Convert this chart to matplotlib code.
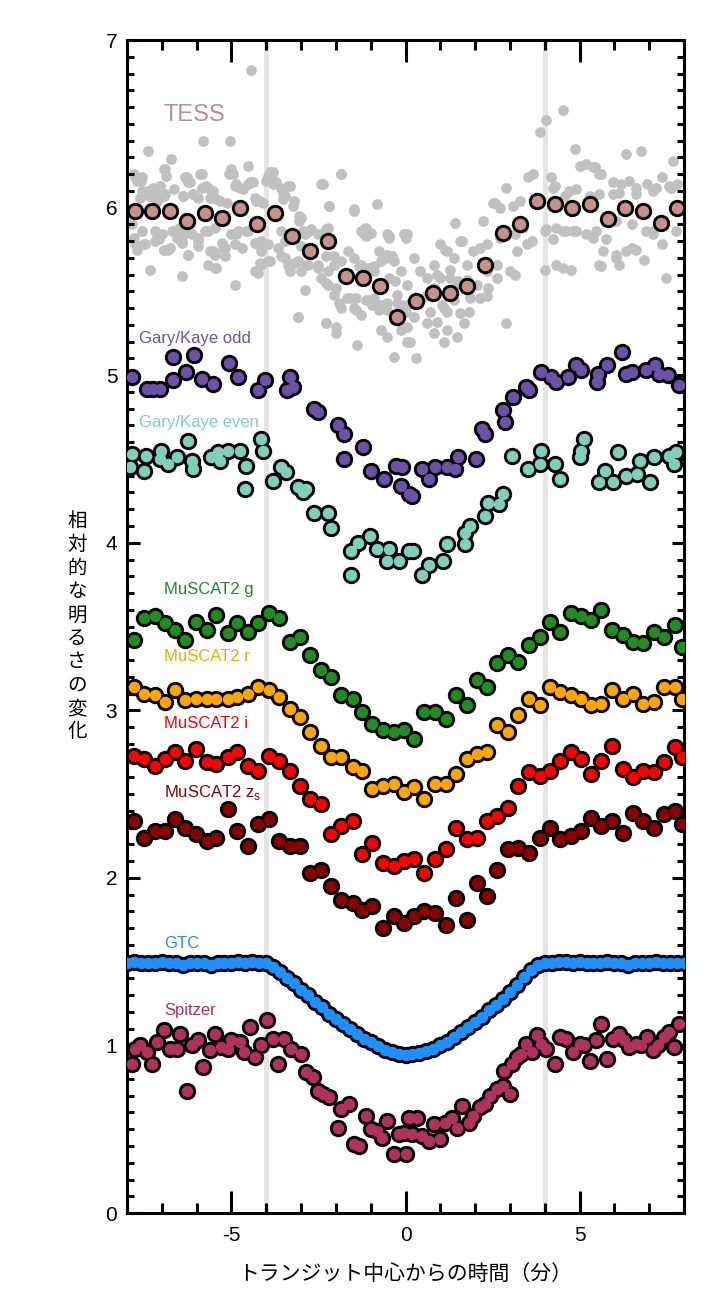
import matplotlib
matplotlib.use("Agg")
import matplotlib.pyplot as plt
from matplotlib.ticker import MultipleLocator

plt.rcParams['font.family'] = ['Liberation Sans', 'DejaVu Sans']
plt.rcParams['axes.unicode_minus'] = False
jp = ['Noto Sans CJK JP', 'DejaVu Sans']

# ---- TESS unbinned (grey) ----
tess_raw_t = [-4.43, -5.81, -5.05, -7.40, -6.73, -4.52, -6.90, -5.85, -5.00, -5.07, -1.85, -7.76, -7.59, -6.33, -6.24,
              -3.81, -3.95, -3.71, -4.38, -4.52, -7.24, -7.05, -7.57, -7.33, -7.09, -6.90, -6.66, -6.38, -6.09, -5.85,
              -5.68, -5.57, -5.43, -4.90, -4.76, -4.33, -4.19, -3.57, -3.38, -3.47, -3.19, -2.38, -2.19, -1.47, -0.81,
              -7.85, -7.57, -7.19, -7.00, -6.71, -6.52, -6.33, -6.14, -5.95, -5.66, -5.47, -5.00, -4.81, -4.52, -4.14,
              -3.95, -3.57, -3.47, -3.00, -2.90, -2.76, -2.52, -2.24, -1.28, -1.19, -0.52, -0.05,
              -7.76, -7.47, -7.09, -6.95, -6.81, -6.43, -6.24, -5.95, -5.62, -5.47, -5.28, -5.19, -5.66, -5.47, -4.90,
              -4.71, -4.24, -4.14, -3.95, -4.33, -4.14, -3.66, -3.47, -3.38, -3.09, -3.00, -2.81, -2.52, -2.43, -2.24,
              -2.05, -1.85, -1.66, -1.47, -1.28, -1.09, -0.90, -0.71, -0.52, -0.33, -0.14, 0.05,
              -7.33, -6.43, -4.90, -2.90, -2.24, -2.05, -1.85, -1.57, -1.47, -1.28, -1.09, -0.90, -0.71, -0.52, -0.33,
              -0.14, -0.71, -0.52, -3.09, -2.28, -2.00, -1.38, 0.05, -0.24, -0.33,
              -7.79, -7.71, -7.57, -6.95, -6.88, -6.29, -6.19, -5.89, -5.73, -5.52, -4.95, -4.86, -4.67, -4.48,
              -3.90, -4.00, -3.81, -3.33, -3.52, -7.43, -7.19, -7.05, -7.62, -7.33, -7.14, -6.95, -6.38, -6.10,
              -5.95, -5.62, -5.33, -5.14, -4.29, -4.10, -3.52, -3.24, -3.05, -2.43, -1.86, -2.19, -1.48, -1.14,
              -1.00, -0.48, -7.81, -7.52, -7.71, -7.14, -7.19, -6.95, -6.76, -6.57, -6.43, -5.95, -5.76, -5.52,
              -5.24, -5.19, -4.86, -4.57, -4.33, -4.10, -6.24, -5.45, -4.19, -3.90, -4.24, -3.57, -3.33, -3.19,
              -3.05, -2.95, -2.71, -3.00, -2.29, -2.29, -2.05, -2.86, -2.52, -2.29, -2.00, -1.90, -1.67, -1.43,
              -1.19, -1.14, -0.76, -0.57, -0.38, -1.33, -1.14, -0.90, -0.48, -0.29, -1.14, -0.95, -0.76, -0.52,
              -1.43, -3.10, -2.29, -2.00, -0.48, 0.00, -0.24, 0.00,
              4.52, 4.05, 3.86, 4.86, 6.33, 6.76, 7.67, 3.67, 3.52, 4.19, 5.00, 5.19, 5.38, 5.62, 5.95, 6.19, 6.43,
              6.62, 6.95, 7.19, 7.38, 7.62, 7.81, 2.89, 4.24, 4.71, 4.90, 5.57, 5.95, 2.52, 2.71, 3.09, 3.29, 2.24,
              1.43, 0.03, 1.00, 1.62, 0.24, 0.43, 0.81, 1.19, 1.38, 1.76, 1.95, 2.14, 2.33, 2.71, 3.14, 3.38, 3.62,
              4.00, 4.24, 4.52, 4.81, 5.19, 5.48, 5.76, 5.67, 5.57, 6.05, 6.33, 6.62, 6.86, 7.10, 7.38, 7.48, 7.76,
              4.00, 4.33, 4.52, 4.76, 3.00, 2.62, 2.33, 2.05, 1.76, 1.48, 1.00, 0.81, 0.62, 0.43, 0.14, -0.05, 0.24,
              0.05, 0.71, 1.10, 1.38, 1.57, 1.86, 2.90, 1.19, 1.48, 0.62, 0.81, 1.10, 0.14, 0.29,
              5.43, 5.57, 4.29, 7.57, 4.57, 5.29, 6.14, 6.62, 7.10, 2.57, 4.05, 4.33, 4.62, 4.90, 5.38, 7.10, 6.90,
              6.05, 6.52, 3.19, 3.48, 3.14, 1.57, 1.14, 1.29, 5.62, 6.14, 6.52, 6.05, 0.90, 1.52, 2.38, 2.62, 1.81,
              1.05, 0.90, 1.67, 2.14, 2.33, -0.10, 0.62, 1.19, 1.29]
tess_raw_f = [6.82, 6.40, 6.40, 6.34, 6.29, 6.25, 6.23, 6.20, 6.23, 6.20, 6.20, 6.18, 6.16, 6.18, 6.15,
              6.21, 6.19, 6.15, 6.15, 6.14, 6.12, 6.13, 6.10, 6.07, 6.06, 6.08, 6.11, 6.07, 6.08, 6.12,
              6.12, 6.08, 6.05, 6.13, 6.12, 6.06, 6.04, 6.12, 6.13, 6.07, 6.04, 6.14, 6.01, 5.98, 6.02,
              5.90, 5.86, 5.86, 5.84, 5.86, 5.88, 5.85, 5.84, 5.82, 5.86, 5.88, 5.84, 5.86, 5.86, 5.80,
              5.78, 5.86, 5.80, 5.94, 5.84, 5.86, 5.84, 5.88, 5.86, 5.84, 5.84, 5.84,
              5.78, 5.78, 5.81, 5.75, 5.75, 5.80, 5.72, 5.80, 5.74, 5.72, 5.79, 5.76, 5.66, 5.64, 5.78,
              5.76, 5.78, 5.74, 5.68, 5.62, 5.66, 5.76, 5.70, 5.66, 5.68, 5.62, 5.66, 5.66, 5.58, 5.62,
              5.66, 5.68, 5.74, 5.70, 5.66, 5.64, 5.62, 5.68, 5.72, 5.68, 5.62, 5.54,
              5.63, 5.59, 5.54, 5.51, 5.54, 5.48, 5.40, 5.46, 5.40, 5.36, 5.45, 5.46, 5.42, 5.39, 5.33,
              5.27, 5.27, 5.23, 5.35, 5.31, 5.25, 5.18, 5.20, 5.43, 5.11,
              6.20, 6.16, 6.18, 6.23, 6.19, 6.18, 6.15, 6.20, 6.13, 6.10, 6.20, 6.14, 6.11, 6.15,
              6.21, 6.16, 6.14, 6.13, 6.09, 6.10, 6.11, 6.13, 6.06, 6.07, 6.04, 6.07, 6.07, 6.08,
              6.06, 6.06, 6.04, 6.03, 6.04, 6.03, 6.05, 6.01, 5.95, 6.14, 6.20, 6.01, 5.99, 5.88,
              5.85, 5.83, 5.82, 5.78, 5.75, 5.84, 5.80, 5.75, 5.76, 5.82, 5.79, 5.77, 5.86, 5.74,
              5.76, 5.71, 5.84, 5.86, 5.79, 5.79, 5.72, 5.64, 5.67, 5.68, 5.61, 5.71, 5.62, 5.67,
              5.92, 5.86, 5.87, 5.77, 5.87, 5.71, 5.71, 5.66, 5.64, 5.55, 5.52, 5.43, 5.46, 5.46,
              5.87, 5.83, 5.74, 5.70, 5.71, 5.65, 5.63, 5.65, 5.58, 5.56, 5.45, 5.42, 5.39, 5.43,
              5.39, 5.35, 5.31, 5.29, 5.82, 5.82, 5.48, 5.38,
              6.58, 6.52, 6.45, 6.35, 6.32, 6.34, 6.28, 6.20, 6.18, 6.18, 6.25, 6.26, 6.24, 6.20, 6.15, 6.14, 6.16,
              6.12, 6.14, 6.12, 6.18, 6.12, 6.14, 6.12, 6.12, 6.10, 6.11, 6.08, 6.08, 6.03, 6.00, 6.01, 6.04, 5.92,
              5.91, 5.84, 5.78, 5.80, 5.70, 5.62, 5.66, 5.74, 5.70, 5.66, 5.74, 5.76, 5.78, 5.82, 5.84, 5.88, 5.80,
              5.86, 5.81, 5.86, 5.86, 5.84, 5.86, 5.81, 5.74, 5.66, 5.70, 5.74, 5.75, 5.69, 5.86, 5.78, 5.58, 5.86,
              5.63, 5.66, 5.64, 5.63, 5.62, 5.66, 5.62, 5.54, 5.57, 5.54, 5.58, 5.52, 5.48, 5.45, 5.43, 5.39, 5.35,
              5.29, 5.38, 5.40, 5.45, 5.37, 5.46, 5.31, 5.27, 5.23, 5.31, 5.25, 5.20, 5.20, 5.10,
              6.24, 6.20, 6.13, 6.13, 6.07, 6.07, 6.09, 6.08, 6.10, 6.03, 5.87, 5.88, 5.86, 5.86, 5.82, 5.84, 5.86,
              5.92, 5.90, 5.74, 5.78, 5.60, 5.80, 5.75, 5.63, 5.65, 5.66, 5.76, 5.72, 5.60, 5.56, 5.52, 5.58, 5.38,
              5.42, 5.32, 5.31, 5.46, 5.47, 5.42, 5.58, 5.38, 5.58]

# ---- TESS binned ----
tess_bin_t = [-7.78, -7.27, -6.76, -6.27, -5.76, -5.27, -4.76, -4.27, -3.76, -3.27, -2.74, -2.24, -1.71, -1.22,
              -0.74, -0.24, 0.29, 0.78, 1.29, 1.78, 2.29, 2.79, 3.29, 3.78, 4.29, 4.79, 5.29, 5.81, 6.31, 6.81,
              7.33, 7.81]
tess_bin_f = [5.98, 5.98, 5.98, 5.92, 5.97, 5.94, 6.00, 5.90, 5.97, 5.83, 5.74, 5.80, 5.59, 5.58,
              5.53, 5.35, 5.44, 5.49, 5.49, 5.53, 5.66, 5.85, 5.90, 6.04, 6.02, 6.00, 6.02, 5.93, 6.00, 5.98,
              5.91, 6.00]

# ---- Gary/Kaye odd ----
gk_odd_t = [-7.86, -7.43, -7.24, -7.05, -6.67, -6.67, -6.31, -6.07, -5.86, -5.52, -5.08, -4.81, -4.24, -4.03,
            -3.33, -3.40, -3.24, -2.62, -2.50, -1.95, -1.78, -1.21, -1.78, -1.00, -0.62, -0.26, -0.14, 0.10,
            -0.10, 0.19, 0.48, 0.67, 0.86, 1.19, 1.43, 1.50, 2.03, 2.19, 2.29, 2.79, 2.86, 3.10, 3.46, 3.55,
            3.90, 4.19, 4.31, 4.67, 4.89, 5.05, 5.52, 5.50, 5.78, 6.22, 6.33, 6.52, 6.90, 7.17, 7.29, 7.55, 7.86]
gk_odd_f = [4.99, 4.92, 4.92, 4.92, 5.11, 4.97, 5.02, 5.12, 4.98, 4.95, 5.07, 4.99, 4.91, 4.97,
            4.99, 4.91, 4.93, 4.80, 4.78, 4.70, 4.65, 4.57, 4.50, 4.43, 4.38, 4.46, 4.34, 4.29,
            4.45, 4.28, 4.44, 4.38, 4.45, 4.45, 4.44, 4.51, 4.50, 4.68, 4.65, 4.79, 4.72, 4.87, 4.93, 4.91,
            5.02, 4.99, 4.96, 4.99, 5.06, 5.03, 5.01, 4.96, 5.06, 5.14, 5.01, 5.02, 5.03, 5.06, 5.01, 5.00, 4.94]

# ---- Gary/Kaye even ----
gk_even_t = [-7.86, -7.90, -7.46, -7.52, -7.02, -7.05, -6.81, -6.57, -6.26, -6.14, -6.10, -5.59, -5.38, -5.33,
             -5.11, -4.76, -4.57, -4.60, -4.14, -4.10, -3.81, -3.59, -3.43, -3.10, -2.86, -2.95, -2.64, -2.24,
             -2.14, -1.57, -1.36, -1.02, -0.81, -0.52, -0.48, -0.19, 0.10, -1.57,
             0.22, 0.48, 0.67, 1.08, 1.19, 1.71, 1.71, 1.86, 2.29, 2.38, 2.70, 2.81, 3.05, 3.52, 3.86, 3.88,
             4.29, 4.43, 5.00, 5.05, 5.14, 5.55, 5.74, 5.95, 6.10, 6.33, 6.64, 6.73, 7.02, 7.14, 7.57, 7.71, 7.76]
gk_even_f = [4.53, 4.45, 4.52, 4.43, 4.55, 4.50, 4.47, 4.51, 4.61, 4.49, 4.44, 4.51, 4.54, 4.49,
             4.55, 4.55, 4.46, 4.32, 4.62, 4.55, 4.37, 4.45, 4.42, 4.33, 4.32, 4.30, 4.18, 4.18,
             4.09, 3.95, 4.00, 4.04, 3.96, 3.89, 3.96, 3.89, 3.95, 3.81,
             3.95, 3.81, 3.87, 3.89, 3.99, 3.99, 4.06, 4.10, 4.16, 4.24, 4.23, 4.29, 4.52, 4.44, 4.47, 4.55,
             4.47, 4.38, 4.51, 4.55, 4.62, 4.36, 4.43, 4.36, 4.54, 4.40, 4.41, 4.49, 4.36, 4.51, 4.52, 4.47, 4.54]

# ---- MuSCAT2 (common time grid) ----
muscat_t = [-7.81, -7.52, -7.21, -6.92, -6.62, -6.33, -6.03, -5.71, -5.43, -5.11, -4.83, -4.52, -4.24, -3.93,
            -3.62, -3.33, -3.02, -2.73, -2.43, -2.14, -1.84, -1.52, -1.24, -0.95, -0.64, -0.33, -0.05, 0.24,
            0.54, 0.86, 1.17, 1.46, 1.76, 2.05, 2.35, 2.64, 2.95, 3.24, 3.55, 3.86, 4.14, 4.45, 4.76, 5.05,
            5.33, 5.62, 5.93, 6.24, 6.54, 6.83, 7.14, 7.43, 7.74, 7.95]
muscat_g = [3.42, 3.55, 3.56, 3.52, 3.48, 3.42, 3.53, 3.48, 3.57, 3.46, 3.52, 3.47, 3.52, 3.58,
            3.55, 3.41, 3.44, 3.33, 3.24, 3.20, 3.09, 3.07, 2.99, 2.92, 2.88, 2.87, 2.88, 2.83,
            2.99, 2.99, 2.95, 3.09, 3.03, 3.18, 3.14, 3.28, 3.33, 3.29, 3.39, 3.44, 3.53, 3.47, 3.58, 3.56,
            3.54, 3.60, 3.48, 3.45, 3.41, 3.40, 3.47, 3.44, 3.51, 3.38]
muscat_r = [3.14, 3.10, 3.09, 3.05, 3.12, 3.06, 3.07, 3.07, 3.07, 3.07, 3.08, 3.10, 3.14, 3.12,
            3.08, 3.01, 2.96, 2.87, 2.79, 2.72, 2.72, 2.66, 2.64, 2.53, 2.55, 2.56, 2.51, 2.54,
            2.47, 2.56, 2.56, 2.62, 2.71, 2.74, 2.75, 2.91, 2.87, 2.97, 3.07, 3.03, 3.14, 3.11, 3.09, 3.07,
            3.03, 3.04, 3.12, 3.07, 3.10, 3.04, 3.05, 3.14, 3.14, 3.07]
muscat_i = [2.73, 2.71, 2.67, 2.71, 2.75, 2.70, 2.77, 2.69, 2.68, 2.72, 2.75, 2.67, 2.64, 2.73,
            2.70, 2.64, 2.55, 2.47, 2.44, 2.26, 2.31, 2.34, 2.14, 2.21, 2.09, 2.07, 2.10, 2.11,
            2.03, 2.11, 2.17, 2.30, 2.23, 2.24, 2.34, 2.37, 2.42, 2.55, 2.63, 2.61, 2.64, 2.70, 2.75, 2.71,
            2.62, 2.70, 2.79, 2.65, 2.60, 2.64, 2.63, 2.69, 2.78, 2.72]
muscat_z = [2.34, 2.24, 2.28, 2.28, 2.35, 2.30, 2.26, 2.22, 2.24, 2.41, 2.28, 2.19, 2.32, 2.35,
            2.22, 2.19, 2.19, 2.03, 2.05, 1.95, 1.87, 1.85, 1.81, 1.83, 1.70, 1.77, 1.73, 1.77,
            1.80, 1.79, 1.72, 1.88, 1.75, 1.97, 1.89, 2.05, 2.17, 2.18, 2.15, 2.24, 2.30, 2.23, 2.25, 2.28,
            2.36, 2.31, 2.34, 2.27, 2.39, 2.34, 2.30, 2.38, 2.40, 2.32]

# ---- GTC ----
gtc_t = [-8.0, -7.8, -7.6, -7.4, -7.2, -7.0, -6.8, -6.6, -6.4, -6.2, -6.0, -5.8, -5.6, -5.4, -5.2, -5.0, -4.8,
         -4.6, -4.4, -4.2, -4.0, -3.8, -3.6, -3.4, -3.2, -3.0, -2.8, -2.6, -2.4, -2.2, -2.0, -1.8, -1.6, -1.4,
         -1.2, -1.0, -0.8, -0.6, -0.4, -0.2, 0.0, 0.2, 0.4, 0.6, 0.8, 1.0, 1.2, 1.4, 1.6, 1.8, 2.0, 2.2, 2.4,
         2.6, 2.8, 3.0, 3.2, 3.4, 3.6, 3.8, 4.0, 4.2, 4.4, 4.6, 4.8, 5.0, 5.2, 5.4, 5.6, 5.8, 6.0, 6.2, 6.4,
         6.6, 6.8, 7.0, 7.2, 7.4, 7.6, 7.8, 8.0]
gtc_f = [1.49, 1.50, 1.49, 1.49, 1.49, 1.50, 1.49, 1.49, 1.48, 1.49, 1.49, 1.49, 1.48, 1.49, 1.49, 1.49, 1.50,
         1.49, 1.50, 1.49, 1.49, 1.47, 1.44, 1.40, 1.37, 1.33, 1.30, 1.26, 1.23, 1.19, 1.16, 1.13, 1.10, 1.07,
         1.04, 1.02, 0.995, 0.975, 0.96, 0.95, 0.945, 0.95, 0.955, 0.965, 0.98, 1.00, 1.02, 1.05, 1.08, 1.11,
         1.14, 1.17, 1.21, 1.24, 1.28, 1.32, 1.36, 1.41, 1.45, 1.48, 1.49, 1.49, 1.50, 1.50, 1.49, 1.50, 1.49,
         1.49, 1.49, 1.50, 1.49, 1.49, 1.48, 1.49, 1.49, 1.49, 1.50, 1.49, 1.49, 1.49, 1.49]

# ---- Spitzer ----
spitzer_t = [-7.86, -7.76, -7.62, -7.43, -7.29, -7.14, -6.95, -6.76, -6.57, -6.48, -6.29, -6.14, -5.95, -5.81,
             -5.62, -5.48, -5.29, -5.11, -5.00, -4.76, -4.64, -4.48, -4.33, -4.14, -3.97, -3.81, -3.67, -3.48,
             -3.29, -3.00, -2.86, -2.67, -2.52, -2.38, -2.19, -1.95, -1.86, -1.62, -1.48, -1.33, -1.14, -1.00,
             -0.81, -0.67, -0.52, -0.33, -0.19, 0.00, 0.10, -0.05, 0.19, 0.33, 0.48, 0.67, 0.81, 1.00, 1.14,
             1.33, 1.48, 1.62, 1.81, 1.95, 2.14, 2.29, 2.43, 2.62, 2.81, 3.00, 2.83, 3.05, 3.19, 3.33, 3.46,
             3.62, 3.78, 3.90, 4.05, 4.29, 4.43, 4.62, 4.81, 5.00, 5.14, 5.29, 5.48, 5.62, 5.78, 5.95, 6.14,
             6.29, 6.43, 6.62, 6.76, 6.95, 7.10, 7.24, 7.43, 7.57, 7.71, 7.86]
spitzer_f = [0.89, 0.98, 1.00, 0.96, 0.89, 1.02, 1.09, 0.98, 0.98, 1.07, 0.73, 1.00, 1.03, 0.87,
             0.97, 1.07, 0.99, 0.98, 1.03, 1.02, 0.96, 1.11, 0.93, 1.00, 1.15, 1.04, 0.89, 1.04,
             0.98, 0.95, 0.84, 0.81, 0.73, 0.71, 0.69, 0.51, 0.62, 0.65, 0.41, 0.40, 0.58, 0.50,
             0.49, 0.45, 0.55, 0.35, 0.47, 0.35, 0.57, 0.48, 0.47, 0.57, 0.46, 0.43, 0.53, 0.44, 0.54,
             0.57, 0.51, 0.64, 0.54, 0.58, 0.63, 0.65, 0.70, 0.74, 0.76, 0.71, 0.85, 0.89, 0.93, 0.95, 1.01,
             0.96, 1.06, 1.01, 0.98, 0.89, 1.05, 1.04, 0.96, 1.01, 1.00, 0.91, 1.03, 1.13, 0.92, 1.04, 1.07,
             1.03, 0.99, 1.01, 1.00, 1.05, 0.97, 1.00, 1.05, 1.08, 0.99, 1.13]

# label text and colours
series = [
    (gk_odd_t, gk_odd_f, '#6B52A8'),
    (gk_even_t, gk_even_f, '#7FCFBB'),
    (muscat_t, muscat_g, '#228B22'),
    (muscat_t, muscat_r, '#FFA500'),
    (muscat_t, muscat_i, '#FF0000'),
    (muscat_t, muscat_z, '#8B0000'),
    (gtc_t, gtc_f, '#1E90FF'),
    (spitzer_t, spitzer_f, '#B03060'),
]
labels = [
    ('TESS', -6.94, 6.55, '#BC8F8F', 17),
    ('Gary/Kaye odd', -7.66, 5.22, '#6B52A8', 12),
    ('Gary/Kaye even', -7.66, 4.72, '#7FCFBB', 12),
    ('MuSCAT2 g', -6.94, 3.72, '#228B22', 12),
    ('MuSCAT2 r', -6.94, 3.32, '#FFA500', 12),
    ('MuSCAT2 i', -6.94, 2.92, '#FF0000', 12),
    (r'MuSCAT2 z$_\mathregular{s}$', -6.94, 2.51, '#8B0000', 12),
    ('GTC', -6.94, 1.61, '#1E90FF', 12),
    ('Spitzer', -6.94, 1.21, '#B03060', 12),
]
xlabel = 'トランジット中心からの時間（分）'
ylabel = '相対的な明るさの変化'

fig = plt.figure(figsize=(7.2, 13), dpi=100)
ax = fig.add_axes([0.1764, 0.0669, 0.7736, 0.9023])

ax.axvline(-4, color='#e4e4e4', lw=3.5, zorder=0)
ax.axvline(4, color='#e4e4e4', lw=3.5, zorder=0)

ax.plot(tess_raw_t, tess_raw_f, 'o', ms=7.7, color='#c0c0c0', mec='none', zorder=1)


def dots(t, f, color, z):
    # black disc underneath, coloured disc on top -> merged outlines
    ax.plot(t, f, 'o', ms=12.5, color='black', mec='none', zorder=z)
    ax.plot(t, f, 'o', ms=8.3, color=color, mec='none', zorder=z + 0.5)


dots(tess_bin_t, tess_bin_f, '#C4918C', 3)
for i, (t, f, c) in enumerate(series):
    dots(t, f, c, 4 + i)

for txt, x, y, c, fs in labels:
    ax.text(x, y, txt, color=c, fontsize=fs, ha='left', va='center')

ax.set_xlim(-8, 8)
ax.set_ylim(0, 7)
ax.xaxis.set_major_locator(MultipleLocator(5))
ax.xaxis.set_minor_locator(MultipleLocator(1))
ax.yaxis.set_major_locator(MultipleLocator(1))
ax.yaxis.set_minor_locator(MultipleLocator(0.1))
ax.tick_params(which='both', direction='in', top=True, right=True, width=2.2, labelsize=15)
ax.tick_params(axis='x', which='major', length=16, pad=9)
ax.tick_params(axis='x', which='minor', length=7)
ax.tick_params(axis='y', which='major', length=9, pad=7)
ax.tick_params(axis='y', which='minor', length=5)
for s in ax.spines.values():
    s.set_linewidth(2.2)

ax.set_xlabel(xlabel, fontsize=15, family=jp, labelpad=13)
ax.set_ylabel('\n'.join(ylabel), rotation=0, fontsize=14, family=jp,
              va='center', ha='center', linespacing=1.15)
ax.yaxis.set_label_coords(-0.09, 0.5)

fig.savefig('out.png', dpi=100)
